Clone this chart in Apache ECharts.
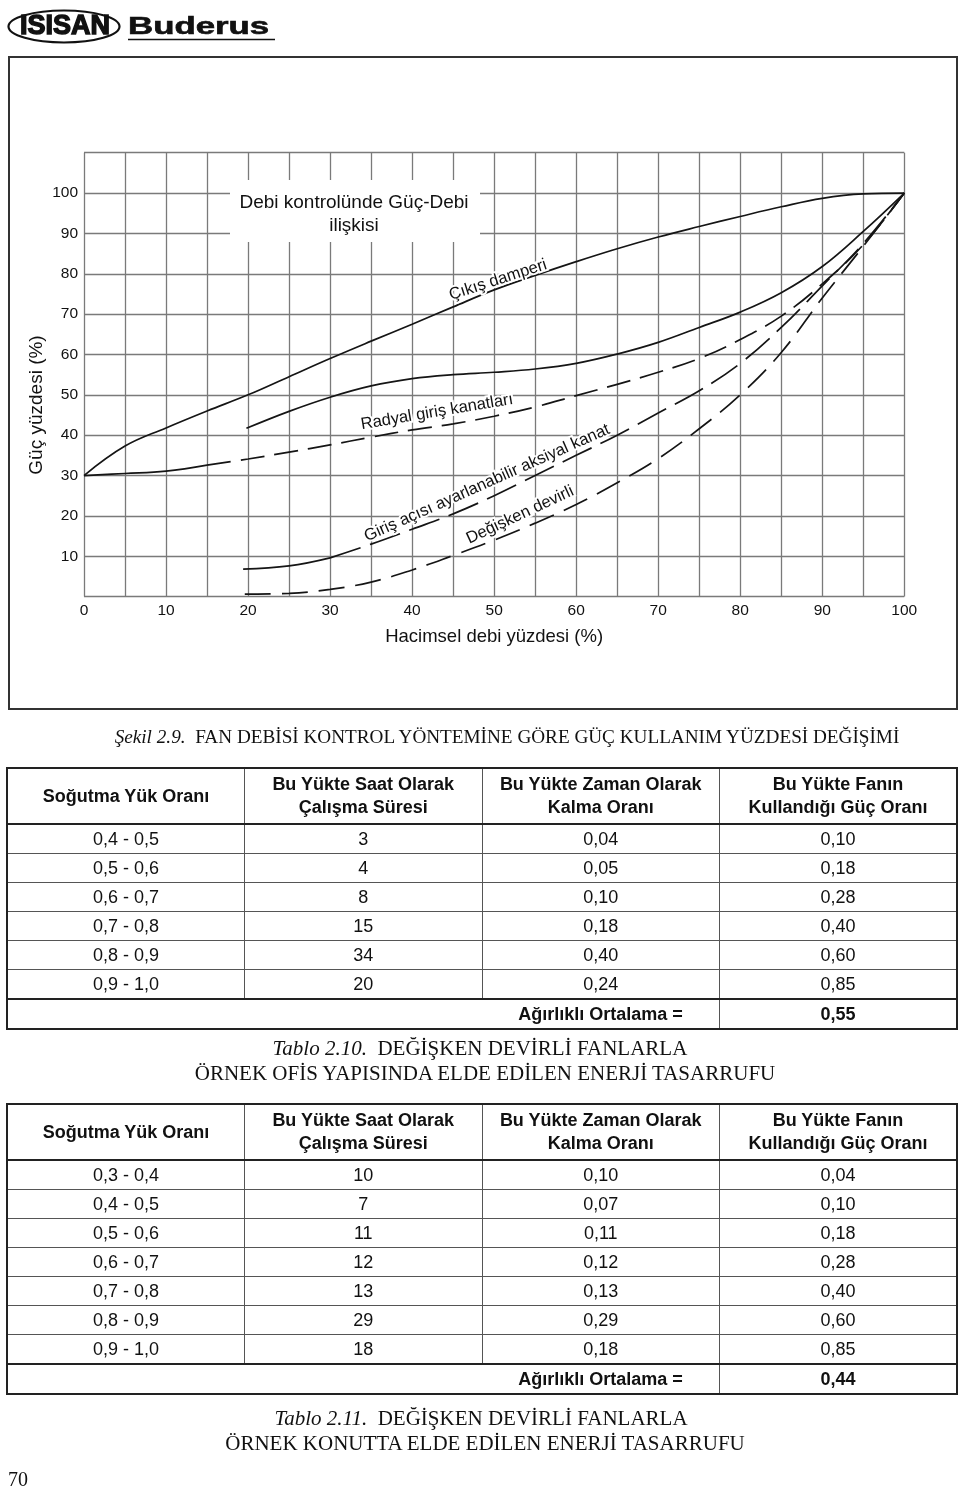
<!DOCTYPE html>
<html><head><meta charset="utf-8">
<script src="https://cdn.jsdelivr.net/npm/echarts/dist/echarts.min.js"></script>
<style>
body{margin:0;background:#fff;}
#chart{position:absolute;left:0;top:0;width:960px;height:1490px;}
.cap{position:absolute;font-family:"Liberation Serif","Times New Roman",serif;font-size:21px;color:#111;text-align:center;white-space:nowrap;line-height:25px;}
.cap i{font-style:italic;}
table.t{position:absolute;left:6px;width:952px;border-collapse:collapse;table-layout:fixed;font-family:"Liberation Sans",Arial,sans-serif;color:#111;border:2px solid #222;}
table.t td,table.t th{border:1px solid #555;text-align:center;padding:0;font-size:18px;}
table.t th{font-weight:bold;height:54px;line-height:23px;border-bottom:2px solid #222;}
table.t td{height:28px;line-height:28px;}
table.t tr.f td{border-top:2px solid #222;font-weight:bold;}
table.t tr.f td.nr{border-right:none;}
table.t tr.f td.nl{border-left:none;}
</style>
</head><body>
<div id="chart"></div>
<div class="cap" style="left:57px;width:900px;top:724px;font-size:19.2px;"><i>Şekil 2.9.</i>&nbsp; FAN DEBİSİ KONTROL YÖNTEMİNE GÖRE GÜÇ KULLANIM YÜZDESİ DEĞİŞİMİ</div>
<table class="t" id="t1" style="top:767px"></table>
<div class="cap" style="left:80px;width:800px;top:1036px;"><i>Tablo 2.10.</i>&nbsp; DEĞİŞKEN DEVİRLİ FANLARLA</div>
<div class="cap" style="left:85px;width:800px;top:1061px;">ÖRNEK OFİS YAPISINDA ELDE EDİLEN ENERJİ TASARRUFU</div>
<table class="t" id="t2" style="top:1103px"></table>
<div class="cap" style="left:81px;width:800px;top:1406px;"><i>Tablo 2.11.</i>&nbsp; DEĞİŞKEN DEVİRLİ FANLARLA</div>
<div class="cap" style="left:85px;width:800px;top:1431px;">ÖRNEK KONUTTA ELDE EDİLEN ENERJİ TASARRUFU</div>
<div class="cap" style="left:8px;top:1467px;text-align:left;font-size:20px;">70</div>
<script>
// ---- chart data ----
const xDamper = [0,5,10,15,20,25,30,35,40,45,50,55,60,65,70,75,80,85,90,95,100];
const yDamper = [30,37.3,41.8,46,50,54.5,59,63.3,67.5,71.8,76,79.6,83,86.2,89.1,91.7,94.2,96.6,98.7,99.8,100];
const xRadialSolid = [19.8,25,30,35,40,45,50,55,60,65,70,75,80,85,90,95,100];
const yRadialSolid = [41.7,45.9,49.4,52.2,54.0,55.0,55.6,56.4,57.8,60.1,63.0,66.7,70.5,75.3,81.8,90.5,100];
const xRadialDash = [0,5,10,15,20,25,30,35,40,45,50,55,60,65,70,75,80,85,90,95,100];
const yRadialDash = [30,30.5,31.1,32.6,34.1,35.8,37.6,39.5,41.3,42.8,44.7,47.0,49.8,52.6,55.6,59,63.7,69.5,77.5,87.2,100];
const xAxial = [19.4,25,30,35,40,45,50,55,60,65,70,75,80,85,90,95,100];
const yAxial = [6.8,7.6,9.6,13.0,16.7,20.5,25.0,30.0,35.0,40.0,45.5,51.0,57.8,66.7,77.0,87.5,100];
const xSpeed = [19.6,25,30,35,40,45,50,55,60,65,70,75,80,85,90,95,100];
const ySpeed = [0.6,0.8,1.8,3.6,6.6,10.2,14.0,18.2,22.8,28.2,34.2,41.6,50.0,60.5,74.0,86.8,100];
const curveLabels = ['Çıkış damperi','Radyal giriş kanatları','Giriş açısı ayarlanabilir aksiyal kanat','Değişken devirli'];
const xTickStep = 5, yTickStep = 10;

// ---- table data ----
const tableHeaders = ['Soğutma Yük Oranı','Bu Yükte Saat Olarak<br>Çalışma Süresi','Bu Yükte Zaman Olarak<br>Kalma Oranı','Bu Yükte Fanın<br>Kullandığı Güç Oranı'];
const t1Load = ['0,4 - 0,5','0,5 - 0,6','0,6 - 0,7','0,7 - 0,8','0,8 - 0,9','0,9 - 1,0'];
const t1Hours = [3,4,8,15,34,20];
const t1Share = [0.04,0.05,0.10,0.18,0.40,0.24];
const t1Power = [0.10,0.18,0.28,0.40,0.60,0.85];
const t1Avg = 0.55;
const t2Load = ['0,3 - 0,4','0,4 - 0,5','0,5 - 0,6','0,6 - 0,7','0,7 - 0,8','0,8 - 0,9','0,9 - 1,0'];
const t2Hours = [10,7,11,12,13,29,18];
const t2Share = [0.10,0.07,0.11,0.12,0.13,0.29,0.18];
const t2Power = [0.04,0.10,0.18,0.28,0.40,0.60,0.85];
const t2Avg = 0.44;

const fmt = v => v.toFixed(2).replace('.', ',');
function buildTable(id, load, hours, share, power, avg){
  let h = '<colgroup><col><col><col><col></colgroup><tr>' + tableHeaders.map(t=>'<th>'+t+'</th>').join('') + '</tr>';
  load.forEach((l,i)=>{
    h += '<tr><td>'+l+'</td><td>'+hours[i]+'</td><td>'+fmt(share[i])+'</td><td>'+fmt(power[i])+'</td></tr>';
  });
  h += '<tr class="f"><td colspan="2" class="nr"></td><td class="nl">Ağırlıklı Ortalama =</td><td>'+fmt(avg)+'</td></tr>';
  document.getElementById(id).innerHTML = h;
}
buildTable('t1', t1Load, t1Hours, t1Share, t1Power, t1Avg);
buildTable('t2', t2Load, t2Hours, t2Share, t2Power, t2Avg);

const zip = (xs, ys) => xs.map((x,i)=>[x, ys[i]]);
const FONT = '"Liberation Sans", Arial, sans-serif';
const INK = '#151515';
function curve(name, data, type){
  return {type:'line', name:name, data:data, symbol:'none', smooth:0.4, silent:true, z:5,
    lineStyle:{color:INK, width:1.7, type:type}};
}
const radialDashData = zip(xRadialDash, yRadialDash);
const axialData = zip(xAxial, yAxial);
const chart = echarts.init(document.getElementById('chart'), null, {renderer:'canvas'});
function lbl(text, x, y, deg, size){
  return {type:'text', x:x, y:y, rotation: deg*Math.PI/180, z:100,
    style:{text:text, font: (size||16)+'px '+FONT, fill:'#111', align:'center', verticalAlign:'middle',
      textAlign:'center', textVerticalAlign:'middle', stroke:'#fff', lineWidth:4}};
}
chart.setOption({
  animation:false,
  backgroundColor:'#fff',
  grid:{left:84, top:152.7, width:820.3, height:443.9, containLabel:false},
  xAxis:{type:'value', min:0, max:100, interval:xTickStep,
    name:'Hacimsel debi yüzdesi (%)', nameLocation:'middle', nameGap:31,
    nameTextStyle:{fontFamily:FONT, fontSize:18.5, color:'#111'},
    axisLine:{show:false}, axisTick:{show:false},
    axisLabel:{margin:6, fontFamily:FONT, fontSize:15.5, color:'#111', formatter:v=> v%10===0 ? String(v) : ''},
    splitLine:{show:true, lineStyle:{color:'#7a7a7a', width:1.3}}},
  yAxis:{type:'value', min:0, max:110, interval:yTickStep,
    axisLine:{show:false}, axisTick:{show:false},
    axisLabel:{margin:6, fontFamily:FONT, fontSize:15.5, color:'#111', formatter:v=> (v===0||v===110) ? '' : String(v)},
    splitLine:{show:true, lineStyle:{color:'#7a7a7a', width:1.3}}},
  series:[
    curve(curveLabels[0], zip(xDamper,yDamper), 'solid'),
    curve(curveLabels[1]+' (sürekli)', zip(xRadialSolid,yRadialSolid), 'solid'),
    curve(curveLabels[1]+' (başlangıç)', radialDashData.slice(0,4), 'solid'),
    curve(curveLabels[1], radialDashData.slice(3), [24,10]),
    curve(curveLabels[2]+' (başlangıç)', axialData.slice(0,3), 'solid'),
    curve(curveLabels[2], axialData.slice(2), [32,10]),
    curve(curveLabels[3], zip(xSpeed,ySpeed), [26,11])
  ],
  graphic:[
    {type:'rect', shape:{x:9, y:57, width:948, height:652}, style:{fill:'none', stroke:'#333', lineWidth:2}, z:1},
    {type:'ellipse', shape:{cx:64, cy:26.5, rx:55.5, ry:16}, style:{fill:'none', stroke:'#111', lineWidth:2.2}},
    {type:'text', x:65, y:27, style:{text:'ISISAN', font:'bold 27px '+FONT, fill:'#111', stroke:'#111', lineWidth:1.4,
      align:'center', verticalAlign:'middle', textAlign:'center', textVerticalAlign:'middle'}},
    {type:'text', x:128, y:27, scaleX:1.45, style:{text:'Buderus', font:'bold 24px '+FONT, fill:'#111', stroke:'#111', lineWidth:0.6,
      align:'left', verticalAlign:'middle', textAlign:'left', textVerticalAlign:'middle'}},
    {type:'line', shape:{x1:128, y1:39.5, x2:275, y2:39.5}, style:{stroke:'#111', lineWidth:1.5}},
    {type:'rect', shape:{x:230, y:180, width:250, height:62}, style:{fill:'#fff'}, z:50},
    {type:'text', x:354, y:203, z:51, style:{text:'Debi kontrolünde Güç-Debi', font:'19px '+FONT, fill:'#111',
      align:'center', verticalAlign:'middle', textAlign:'center', textVerticalAlign:'middle'}},
    {type:'text', x:354, y:226, z:51, style:{text:'ilişkisi', font:'19px '+FONT, fill:'#111',
      align:'center', verticalAlign:'middle', textAlign:'center', textVerticalAlign:'middle'}},
    {type:'text', x:37, y:405, rotation:Math.PI/2, style:{text:'Güç yüzdesi (%)', font:'19px '+FONT, fill:'#111',
      align:'center', verticalAlign:'middle', textAlign:'center', textVerticalAlign:'middle'}},
    lbl(curveLabels[0], 498, 280, 18, 16.5),
    lbl(curveLabels[1], 437, 412, 9.5, 16.5),
    lbl(curveLabels[2], 487, 483, 24, 16.5),
    lbl(curveLabels[3], 520, 515, 25, 16.5)
  ]
});
</script>
</body></html>
